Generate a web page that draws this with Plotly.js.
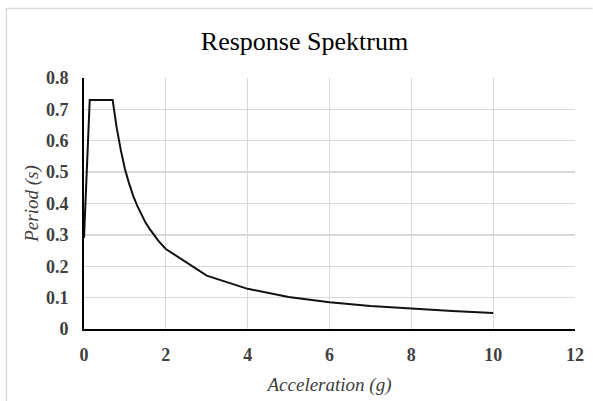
<!DOCTYPE html>
<html>
<head>
<meta charset="utf-8">
<script src="https://cdn.plot.ly/plotly-3.0.1.min.js"></script>
<style>
  html, body { margin: 0; padding: 0; background: #fff; }
  #chart { width: 593px; height: 401px; }
</style>
</head>
<body>
<div id="chart"></div>
<script>
// Period / acceleration values
const acceleration = [0, 0.14, 0.7, 0.8, 0.9, 1.0, 1.1, 1.2, 1.3, 1.4, 1.5, 1.6, 1.7, 1.8, 1.9, 2.0, 3, 4, 5, 6, 7, 8, 9, 10];
const period = [0.29, 0.73, 0.73, 0.64, 0.57, 0.51, 0.465, 0.425, 0.393, 0.365, 0.34, 0.32, 0.30, 0.284, 0.269, 0.255, 0.17, 0.128, 0.102, 0.085, 0.073, 0.064, 0.057, 0.051];
const xTicks = [0, 2, 4, 6, 8, 10, 12];
const yTicks = [0, 0.1, 0.2, 0.3, 0.4, 0.5, 0.6, 0.7, 0.8];
const yTickText = ['0', '0.1', '0.2', '0.3', '0.4', '0.5', '0.6', '0.7', '0.8'];

const serif = 'Liberation Serif, Times New Roman, serif';

const trace = {
  x: acceleration,
  y: period,
  type: 'scatter',
  mode: 'lines',
  line: { color: '#111111', width: 2 },
  hoverinfo: 'skip'
};

const layout = {
  width: 593,
  height: 401,
  margin: { l: 84, r: 18, t: 78, b: 72 },
  paper_bgcolor: '#ffffff',
  plot_bgcolor: '#ffffff',
  showlegend: false,
  font: { family: serif },
  title: {
    text: 'Response Spektrum',
    font: { family: serif, size: 26, color: '#000000' },
    xref: 'container', x: 0.5135, xanchor: 'center',
    yref: 'container', y: 0.898, yanchor: 'middle'
  },
  xaxis: {
    range: [0, 12],
    tickvals: xTicks,
    ticktext: xTicks.map(String),
    showgrid: true,
    gridcolor: '#d9d9d9',
    gridwidth: 1.3,
    zeroline: false,
    showline: true,
    linecolor: '#000000',
    linewidth: 2,
    ticks: '',
    ticklabelstandoff: 8,
    tickfont: { family: serif, size: 18, color: '#404040', weight: 'bold' },
    title: {
      text: 'Acceleration (g)',
      standoff: 14,
      font: { family: serif, size: 19, color: '#404040', style: 'italic' }
    },
    fixedrange: true
  },
  yaxis: {
    range: [0, 0.8],
    tickvals: yTicks,
    ticktext: yTickText,
    showgrid: true,
    gridcolor: '#d9d9d9',
    gridwidth: 1.3,
    zeroline: false,
    showline: true,
    linecolor: '#000000',
    linewidth: 2,
    ticks: '',
    ticklabelstandoff: 10,
    tickfont: { family: serif, size: 18, color: '#404040', weight: 'bold' },
    title: {
      text: 'Period (s)',
      standoff: 2,
      font: { family: serif, size: 19, color: '#404040', style: 'italic' }
    },
    fixedrange: true
  },
  shapes: [
    {
      type: 'path',
      xref: 'paper', yref: 'paper',
      path: 'M -0.158,-0.4 L -0.158,1.277 L 1.0356,1.277',
      line: { color: '#d9d9d9', width: 1.5 },
      layer: 'below'
    }
  ]
};

Plotly.newPlot('chart', [trace], layout, { displayModeBar: false, staticPlot: true });
</script>
</body>
</html>
